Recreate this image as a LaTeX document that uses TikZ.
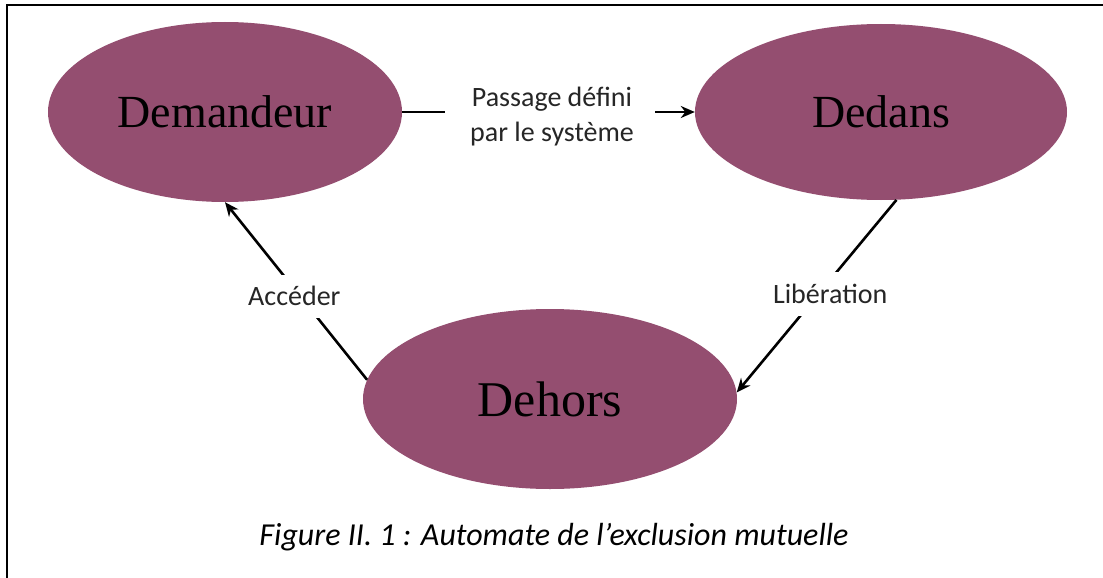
\documentclass[tikz,border=0pt]{standalone}
\usepackage{fontspec}
\setmainfont{Liberation Serif}
\newfontfamily\calfont{Carlito}
\usetikzlibrary{shapes.geometric,arrows.meta}
\definecolor{plum}{RGB}{148,78,112}
\tikzset{
  state/.style={ellipse, fill=plum, draw=none, inner sep=0pt, text=black,
    font=\fontsize{46}{50}\selectfont},
  lbl/.style={font=\calfont\fontsize{28}{35}\selectfont, text=black!85, align=center},
  arr/.style={line width=2.6pt, -{Stealth[length=14pt,width=12pt]}},
  ln/.style={line width=2.6pt},
}
\begin{document}
\begin{tikzpicture}[x=1pt,y=-1pt]
\useasboundingbox (0,0) rectangle (1103,578);
\fill[white] (0,0) rectangle (1103,578);
\draw[line width=2.4pt] (7,578) -- (7,5) -- (1103,5);
\node[state, minimum width=354pt, minimum height=180pt] (dem) at (225,112) {Demandeur};
\node[state, minimum width=372pt, minimum height=176pt] (ded) at (881,112) {Dedans};
\node[state, minimum width=374pt, minimum height=180pt, font=\fontsize{50}{54}\selectfont] (deh) at (550,399) {Dehors};
\node[lbl, inner xsep=0pt] (pas) at (552,117) {Passage défini\\par le système};
\coordinate (pl) at (445,112);
\coordinate (pr) at (655,112);
\draw[ln] (dem.east) -- (pl);
\draw[arr] (pr) -- (ded.west);
\draw[arr] (deh.174) -- node[pos=0.47, lbl, fill=white, inner xsep=4pt, inner ysep=12pt, xshift=-6pt] (acc) {Accéder} (dem.south);
\draw[arr] (ded.-80) -- node[pos=0.49, lbl, fill=white, inner xsep=4pt, inner ysep=12pt, xshift=12pt] (lib) {Libération} (deh.2);
\node[font=\calfont\itshape\fontsize{32}{36}\selectfont, text=black] (cap) at (554,537) {Figure II. 1 : Automate de l’exclusion mutuelle};
\end{tikzpicture}
\end{document}
